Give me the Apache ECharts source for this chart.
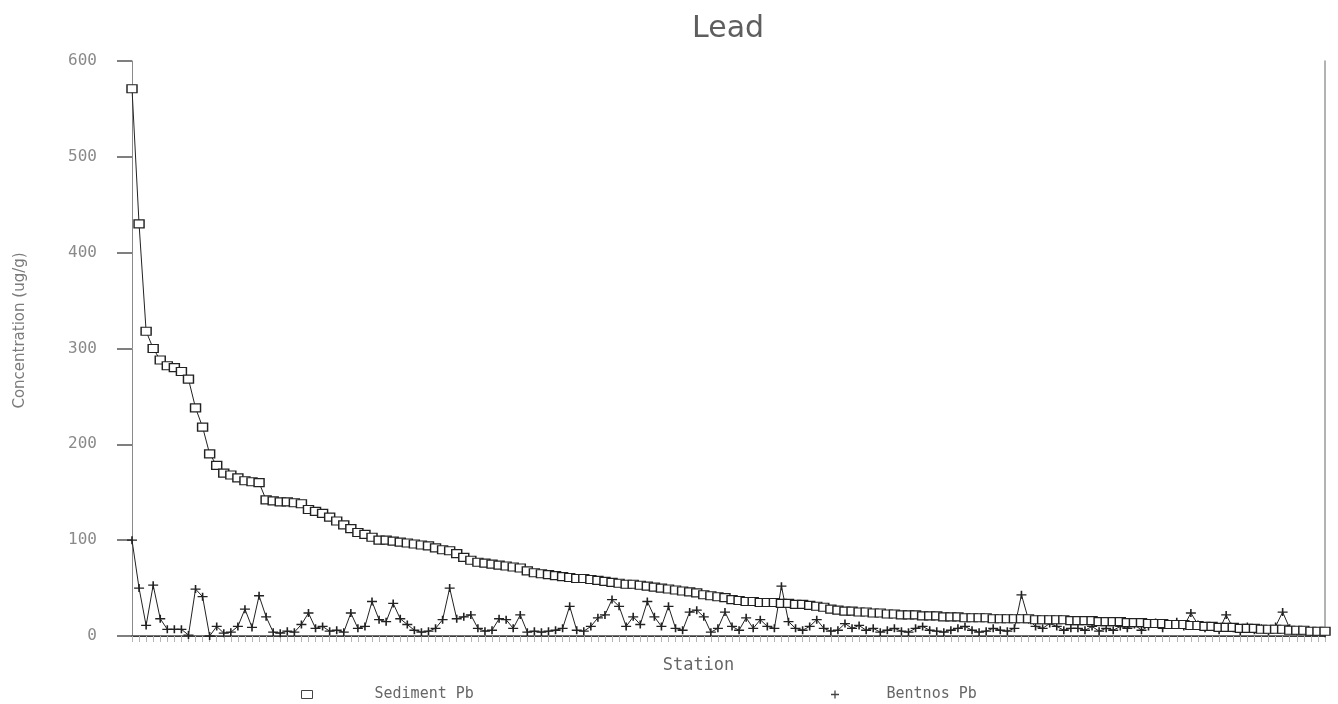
<!DOCTYPE html>
<html>
<head>
<meta charset="utf-8">
<title>Lead</title>
<script src="https://cdn.jsdelivr.net/npm/echarts@6/dist/echarts.min.js"></script>
<style>
  html, body { margin: 0; padding: 0; background: #fff; }
  #chart { width: 1338px; height: 704px; }
</style>
</head>
<body>
<div id="chart"></div>
<script>
// Lead concentration per station, stations ordered by sediment concentration
const sedimentPb = [
  571, 430, 318, 300, 288, 282, 280, 276, 268, 238,
  218, 190, 178, 170, 168, 165, 162, 161, 160, 142,
  141, 140, 140, 139, 138, 132, 130, 128, 124, 120,
  116, 112, 108, 106, 103, 100, 100, 99, 98, 97,
  96, 95, 94, 92, 90, 89, 86, 82, 79, 77,
  76, 75, 74, 73, 72, 71, 68, 66, 65, 64,
  63, 62, 61, 60, 60, 59, 58, 57, 56, 55,
  54, 54, 53, 52, 51, 50, 49, 48, 47, 46,
  45, 43, 42, 41, 40, 38, 37, 36, 36, 35,
  35, 35, 34, 34, 33, 33, 32, 31, 30, 28,
  27, 26, 26, 25, 25, 24, 24, 23, 23, 22,
  22, 22, 21, 21, 21, 20, 20, 20, 19, 19,
  19, 19, 18, 18, 18, 18, 18, 18, 17, 17,
  17, 17, 17, 16, 16, 16, 16, 15, 15, 15,
  15, 14, 14, 14, 13, 13, 13, 12, 12, 12,
  11, 11, 10, 10, 9, 9, 9, 8, 8, 8,
  7, 7, 7, 7, 6, 6, 6, 5, 5, 5
];

const benthosPb = [
  100, 50, 11, 53, 18, 7, 7, 7, 1, 49,
  41, 0, 10, 3, 4, 10, 28, 9, 42, 20,
  4, 3, 5, 4, 12, 24, 8, 10, 5, 6,
  4, 24, 8, 10, 36, 17, 15, 34, 18, 12,
  6, 4, 5, 8, 17, 50, 18, 20, 22, 8,
  5, 6, 18, 17, 8, 22, 4, 5, 4, 5,
  6, 8, 31, 6, 5, 10, 19, 22, 38, 31,
  10, 20, 12, 36, 20, 10, 31, 8, 6, 25,
  27, 20, 4, 8, 25, 10, 6, 19, 8, 17,
  10, 8, 52, 15, 8, 6, 10, 17, 8, 5,
  6, 13, 8, 11, 6, 8, 4, 6, 8, 5,
  4, 8, 10, 6, 5, 4, 6, 8, 10, 6,
  4, 5, 8, 6, 5, 8, 43, 17, 10, 8,
  13, 10, 6, 8, 8, 6, 10, 5, 8, 6,
  10, 8, 12, 6, 10, 14, 8, 12, 15, 10,
  24, 12, 8, 10, 6, 22, 8, 5, 10, 6,
  8, 5, 10, 25, 8, 5, 6, 4, 5, 3
];

const stations = sedimentPb.map((_, i) => String(i + 1));

const yMin = 0;
const yMax = 600;
const yStep = 100;

const inkColor = '#222222';
const textColor = '#666666';
const plusPath = 'path://M4.2,0H5.8V4.2H10V5.8H5.8V10H4.2V5.8H0V4.2H4.2Z';

const chart = echarts.init(document.getElementById('chart'), null, { renderer: 'canvas' });

chart.setOption({
  backgroundColor: '#ffffff',
  animation: false,
  title: {
    text: 'Lead',
    left: 692,
    top: 14,
    textStyle: {
      fontFamily: 'DejaVu Sans',
      fontSize: 30,
      fontWeight: 'normal',
      color: '#5e5e5e'
    },
    padding: [0, 0, 0, 0]
  },
  legend: [
    {
      left: 296,
      top: 682,
      itemWidth: 11,
      itemHeight: 8,
      data: [{
        name: 'Sediment Pb',
        icon: 'rect',
        itemStyle: { color: '#fff', borderColor: '#444', borderWidth: 1 }
      }],
      textStyle: {
        fontFamily: 'DejaVu Sans Mono',
        fontSize: 15,
        color: textColor,
        padding: [0, 0, 0, 57]
      }
    },
    {
      left: 826,
      top: 682,
      itemWidth: 9,
      itemHeight: 8,
      data: [{
        name: 'Bentnos Pb',
        icon: plusPath,
        itemStyle: { color: '#444', borderWidth: 0 }
      }],
      textStyle: {
        fontFamily: 'DejaVu Sans Mono',
        fontSize: 15,
        color: textColor,
        padding: [0, 0, 0, 42]
      }
    }
  ],
  grid: {
    left: 132,
    right: 13,
    top: 61,
    bottom: 68,
    containLabel: false
  },
  xAxis: [
    {
      type: 'category',
      data: stations,
      boundaryGap: false,
      name: 'Station',
      nameLocation: 'middle',
      nameGap: 21,
      nameTextStyle: {
        fontFamily: 'DejaVu Sans Mono',
        fontSize: 17,
        color: textColor,
        padding: [0, 60, 0, 0]
      },
      axisLine: { show: true, lineStyle: { color: inkColor, width: 1 } },
      axisTick: {
        show: true,
        interval: 0,
        alignWithLabel: true,
        length: 6,
        lineStyle: { color: '#b5b5b5', width: 1 }
      },
      axisLabel: { show: false },
      splitLine: { show: false }
    },
    {
      type: 'category',
      data: stations,
      boundaryGap: false,
      position: 'top',
      axisLine: { show: true, lineStyle: { color: '#444', width: 1.5 } },
      axisTick: { show: false },
      axisLabel: { show: false },
      splitLine: { show: false }
    }
  ],
  yAxis: [
    {
      type: 'value',
      min: yMin,
      max: yMax,
      interval: yStep,
      name: 'Concentration (ug/g)',
      nameLocation: 'middle',
      nameGap: 104,
      nameTextStyle: {
        fontFamily: 'DejaVu Sans',
        fontSize: 15,
        color: '#7a7a7a',
        padding: [0, 0, 0, 36]
      },
      axisLine: { show: true, lineStyle: { color: '#8a8a8a', width: 1 } },
      axisTick: {
        show: true,
        inside: false,
        length: 15,
        lineStyle: { color: '#555', width: 1.5 }
      },
      axisLabel: {
        margin: 35,
        fontFamily: 'DejaVu Sans Mono',
        fontSize: 16,
        color: '#8a8a8a'
      },
      splitLine: { show: false }
    },
    {
      type: 'value',
      min: yMin,
      max: yMax,
      interval: yStep,
      position: 'right',
      axisLine: { show: true, lineStyle: { color: '#9a9a9a', width: 1.5 } },
      axisTick: { show: false },
      axisLabel: { show: false },
      splitLine: { show: false }
    }
  ],
  series: [
    {
      name: 'Bentnos Pb',
      type: 'line',
      data: benthosPb,
      symbol: plusPath,
      symbolSize: [10, 8],
      showAllSymbol: true,
      lineStyle: { color: inkColor, width: 1 },
      itemStyle: { color: inkColor, borderWidth: 0 },
      z: 3
    },
    {
      name: 'Sediment Pb',
      type: 'line',
      data: sedimentPb,
      symbol: 'rect',
      symbolSize: [10, 8],
      showAllSymbol: true,
      lineStyle: { color: inkColor, width: 1 },
      itemStyle: { color: '#ffffff', borderColor: inkColor, borderWidth: 1.3 },
      z: 4
    }
  ]
});
</script>
</body>
</html>
